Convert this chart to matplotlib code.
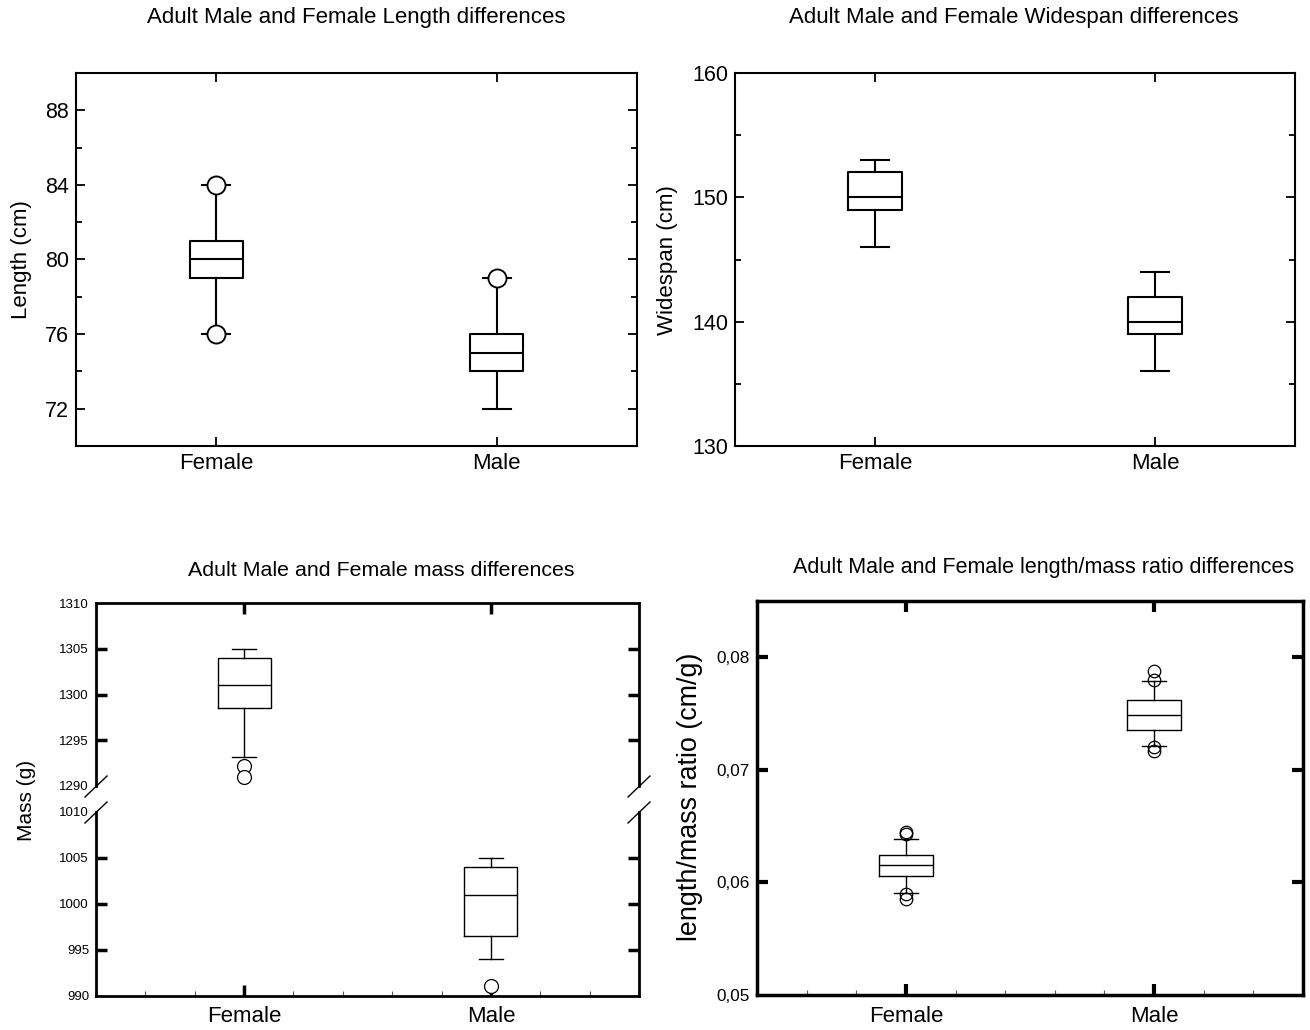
import matplotlib
matplotlib.use("Agg")
import matplotlib.pyplot as plt
from matplotlib.lines import Line2D
from matplotlib.ticker import MultipleLocator, FuncFormatter

plt.rcParams['font.family'] = ['Liberation Sans', 'DejaVu Sans']

categories = ["Female", "Male"]

# length (cm)
len_q1 = [79, 74]
len_med = [80, 75]
len_q3 = [81, 76]
len_lo = [76, 72]
len_hi = [84, 79]
len_out = [[76, 84], [79]]

# widespan (cm)
wid_q1 = [149, 139]
wid_med = [150, 140]
wid_q3 = [152, 142]
wid_lo = [146, 136]
wid_hi = [153, 144]
wid_out = [[], []]

# mass (g)
mass_q1 = [1298.5, 996.5]
mass_med = [1301, 1001]
mass_q3 = [1304, 1004]
mass_lo = [1293.2, 994]
mass_hi = [1305, 1005]
mass_out = [[1292.2, 1291.0], [991.1]]

# length/mass ratio (cm/g)
rat_q1 = [0.06056, 0.07351]
rat_med = [0.06159, 0.07487]
rat_q3 = [0.06248, 0.07625]
rat_lo = [0.05909, 0.07212]
rat_hi = [0.06389, 0.07791]
rat_out = [[0.06445, 0.06431, 0.05895, 0.05857], [0.07876, 0.07796, 0.07201, 0.07171]]

W, H = 1310, 1030
fig = plt.figure(figsize=(W / 100, H / 100), dpi=100)


def rect(l, t, r, b):
    return [l / W, 1 - b / H, (r - l) / W, (b - t) / H]


def fx(x):
    return x / W


def fy(y):
    return 1 - y / H


def stats(q1, med, q3, lo, hi, out):
    st = []
    for i in range(len(categories)):
        st.append(dict(label=categories[i], q1=q1[i], med=med[i], q3=q3[i],
                       whislo=lo[i], whishi=hi[i], fliers=out[i]))
    return st


def draw(ax, st, lw, bw, cw, ms, face):
    ax.bxp(st, positions=[1, 2], widths=bw, capwidths=cw, showfliers=True,
           boxprops=dict(color="black", linewidth=lw),
           whiskerprops=dict(color="black", linewidth=lw),
           capprops=dict(color="black", linewidth=lw),
           medianprops=dict(color="black", linewidth=lw),
           flierprops=dict(marker="o", markersize=ms, markerfacecolor=face,
                           markeredgecolor="black", markeredgewidth=lw * 0.9))


# ---- top left: length
ax1 = fig.add_axes(rect(76, 73, 637, 446))
draw(ax1, stats(len_q1, len_med, len_q3, len_lo, len_hi, len_out), 1.5, 0.19, 0.1, 13, "white")
ax1.set_xlim(0.5, 2.5)
ax1.set_ylim(70, 90)
ax1.set_yticks([72, 76, 80, 84, 88])
ax1.yaxis.set_minor_locator(MultipleLocator(2))

# ---- top right: widespan
ax2 = fig.add_axes(rect(735, 73, 1295, 446))
draw(ax2, stats(wid_q1, wid_med, wid_q3, wid_lo, wid_hi, wid_out), 1.5, 0.19, 0.1, 13, "white")
ax2.set_xlim(0.5, 2.5)
ax2.set_ylim(130, 160)
ax2.set_yticks([130, 140, 150, 160])
ax2.yaxis.set_minor_locator(MultipleLocator(5))

for ax in (ax1, ax2):
    ax.set_xticks([1, 2])
    ax.set_xticklabels(categories)
    for s in ax.spines.values():
        s.set_linewidth(1.5)
    ax.tick_params(which="both", direction="in", top=True, right=True, width=1.3)
    ax.tick_params(which="major", length=6.5, labelsize=15.5, pad=5)
    ax.tick_params(axis="x", which="major", labelsize=16)
    ax.tick_params(which="minor", length=4.5)
    ax.tick_params(axis="x", which="minor", bottom=False, top=False)

# ---- bottom left: mass with broken axis
st_mass = stats(mass_q1, mass_med, mass_q3, mass_lo, mass_hi, mass_out)
ax3u = fig.add_axes(rect(96, 603, 639, 786))
ax3l = fig.add_axes(rect(96, 812, 639, 996))
for ax in (ax3u, ax3l):
    draw(ax, st_mass, 1.0, 0.215, 0.095, 10, "white")
    ax.set_xlim(0.4, 2.6)
    ax.set_xticks([1, 2])
    for s in ax.spines.values():
        s.set_linewidth(2.0)
    ax.tick_params(which="major", direction="in", left=True, right=True, length=8, width=2.5,
                   labelsize=9.5, pad=5)
ax3u.set_ylim(1290, 1310)
ax3u.set_yticks([1290, 1295, 1300, 1305, 1310])
ax3u.spines["bottom"].set_visible(False)
ax3u.tick_params(axis="x", bottom=False, top=True, labelbottom=False)
ax3l.set_ylim(990, 1010)
ax3l.set_yticks([990, 995, 1000, 1005, 1010])
ax3l.spines["top"].set_visible(False)
ax3l.set_xticklabels(categories)
ax3l.tick_params(axis="x", bottom=True, top=False, labelsize=16, pad=7)
ax3l.xaxis.set_minor_locator(MultipleLocator(0.2))
ax3l.tick_params(axis="x", which="minor", direction="in", bottom=True, length=3.5, width=0.8,
                 color="#555555")
for ax in (ax3u, ax3l):
    ax.yaxis.get_major_ticks()[0].tick1line.set_visible(False)
    ax.yaxis.get_major_ticks()[0].tick2line.set_visible(False)
    ax.yaxis.get_major_ticks()[-1].tick1line.set_visible(False)
    ax.yaxis.get_major_ticks()[-1].tick2line.set_visible(False)

# break marks
for xc in (96, 639):
    for yc in (786.5, 812.5):
        fig.add_artist(Line2D([fx(xc - 11), fx(xc + 11)], [fy(yc + 10.5), fy(yc - 10.5)],
                              transform=fig.transFigure, color="black", linewidth=1.0))

# ---- bottom right: ratio
ax4 = fig.add_axes(rect(757, 601, 1303, 995))
draw(ax4, stats(rat_q1, rat_med, rat_q3, rat_lo, rat_hi, rat_out), 1.0, 0.215, 0.095, 9, "none")
ax4.set_xlim(0.4, 2.6)
ax4.set_ylim(0.05, 0.085)
ax4.set_xticks([1, 2])
ax4.set_xticklabels(categories)
ax4.set_yticks([0.05, 0.06, 0.07, 0.08])
ax4.yaxis.set_major_formatter(FuncFormatter(lambda v, p: ("%.2f" % v).replace(".", ",")))
ax4.xaxis.set_minor_locator(MultipleLocator(0.2))
for s in ax4.spines.values():
    s.set_linewidth(2.5)
ax4.tick_params(which="major", direction="in", top=True, right=True, length=8, width=3,
                pad=5)
ax4.tick_params(axis="x", which="major", labelsize=16, pad=8)
ax4.tick_params(axis="y", which="major", labelsize=12.3)
ax4.tick_params(axis="x", which="minor", direction="in", bottom=True, top=False, length=3.5,
                width=0.8, color="#555555")
ax4.yaxis.get_major_ticks()[0].tick1line.set_visible(False)
ax4.yaxis.get_major_ticks()[0].tick2line.set_visible(False)

# ---- titles and axis labels
fig.text(fx(356), fy(18), "Adult Male and Female Length differences", ha="center", va="center",
         fontsize=16)
fig.text(fx(1014), fy(18), "Adult Male and Female Widespan differences", ha="center", va="center",
         fontsize=16)
fig.text(fx(381), fy(570), "Adult Male and Female mass differences", ha="center", va="center",
         fontsize=15.4)
fig.text(fx(1044), fy(567), "Adult Male and Female length/mass ratio differences", ha="center",
         va="center", fontsize=15.5)
fig.text(fx(22), fy(260), "Length (cm)", rotation=90, ha="center", va="center", fontsize=16)
fig.text(fx(668), fy(260), "Widespan (cm)", rotation=90, ha="center", va="center", fontsize=16)
fig.text(fx(27), fy(800), "Mass (g)", rotation=90, ha="center", va="center", fontsize=15)
fig.text(fx(690), fy(797), "length/mass ratio (cm/g)", rotation=90, ha="center", va="center",
         fontsize=19.4)

fig.savefig("out.png", dpi=100)
